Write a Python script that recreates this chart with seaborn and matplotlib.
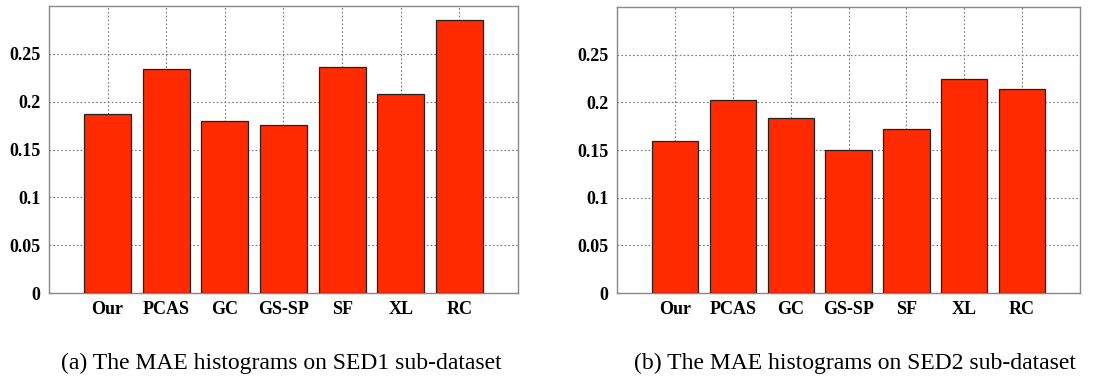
import matplotlib
matplotlib.use("Agg")
import matplotlib.pyplot as plt
import seaborn as sns
import pandas as pd

methods = ["Our", "PCAS", "GC", "GS-SP", "SF", "XL", "RC"]
mae_sed1 = [0.187, 0.234, 0.180, 0.176, 0.236, 0.208, 0.285]
mae_sed2 = [0.159, 0.202, 0.184, 0.150, 0.172, 0.224, 0.214]
yticks = [0, 0.05, 0.1, 0.15, 0.2, 0.25]
ytick_labels = ["0", "0.05", "0.1", "0.15", "0.2", "0.25"]
captions = ["(a) The MAE histograms on SED1 sub-dataset",
            "(b) The MAE histograms on SED2 sub-dataset"]

sns.set_style("white")
plt.rcParams["font.family"] = ["Liberation Serif", "DejaVu Serif"]
plt.rcParams["text.color"] = "black"
plt.rcParams["xtick.color"] = "black"
plt.rcParams["ytick.color"] = "black"

fig = plt.figure(figsize=(11.06, 3.79), dpi=100)
axes = [fig.add_axes([0.0443, 0.2269, 0.424, 0.757]),
        fig.add_axes([0.5579, 0.2269, 0.4186, 0.7546])]
caption_x = [0.254, 0.773]
bar_color = "#FF2A00"

for ax, vals, cap, cx in zip(axes, [mae_sed1, mae_sed2], captions, caption_x):
    df = pd.DataFrame({"method": methods, "mae": vals})
    sns.barplot(data=df, x="method", y="mae", ax=ax, color=bar_color,
                saturation=1, width=0.8, edgecolor="#222222", linewidth=0.9,
                zorder=3)
    ax.set_xlim(-1, 7)
    ax.set_ylim(0, 0.3)
    ax.set_yticks(yticks)
    ax.set_yticklabels(ytick_labels)
    ax.set_xlabel("")
    ax.set_ylabel("")
    ax.grid(True, linestyle=(0, (1.5, 2)), color="#777777", linewidth=0.8, zorder=0)
    ax.set_axisbelow(True)
    for s in ax.spines.values():
        s.set_visible(True)
        s.set_color("#888888")
        s.set_linewidth(1.0)
    ax.tick_params(axis="both", length=0, pad=6, colors="black")
    for lab in ax.get_xticklabels() + ax.get_yticklabels():
        lab.set_fontweight("bold")
        lab.set_fontsize(13)
        lab.set_color("black")
    fig.text(cx, 0.042, cap, ha="center", va="center", fontsize=17, color="black")

fig.savefig("out.png", dpi=100)
